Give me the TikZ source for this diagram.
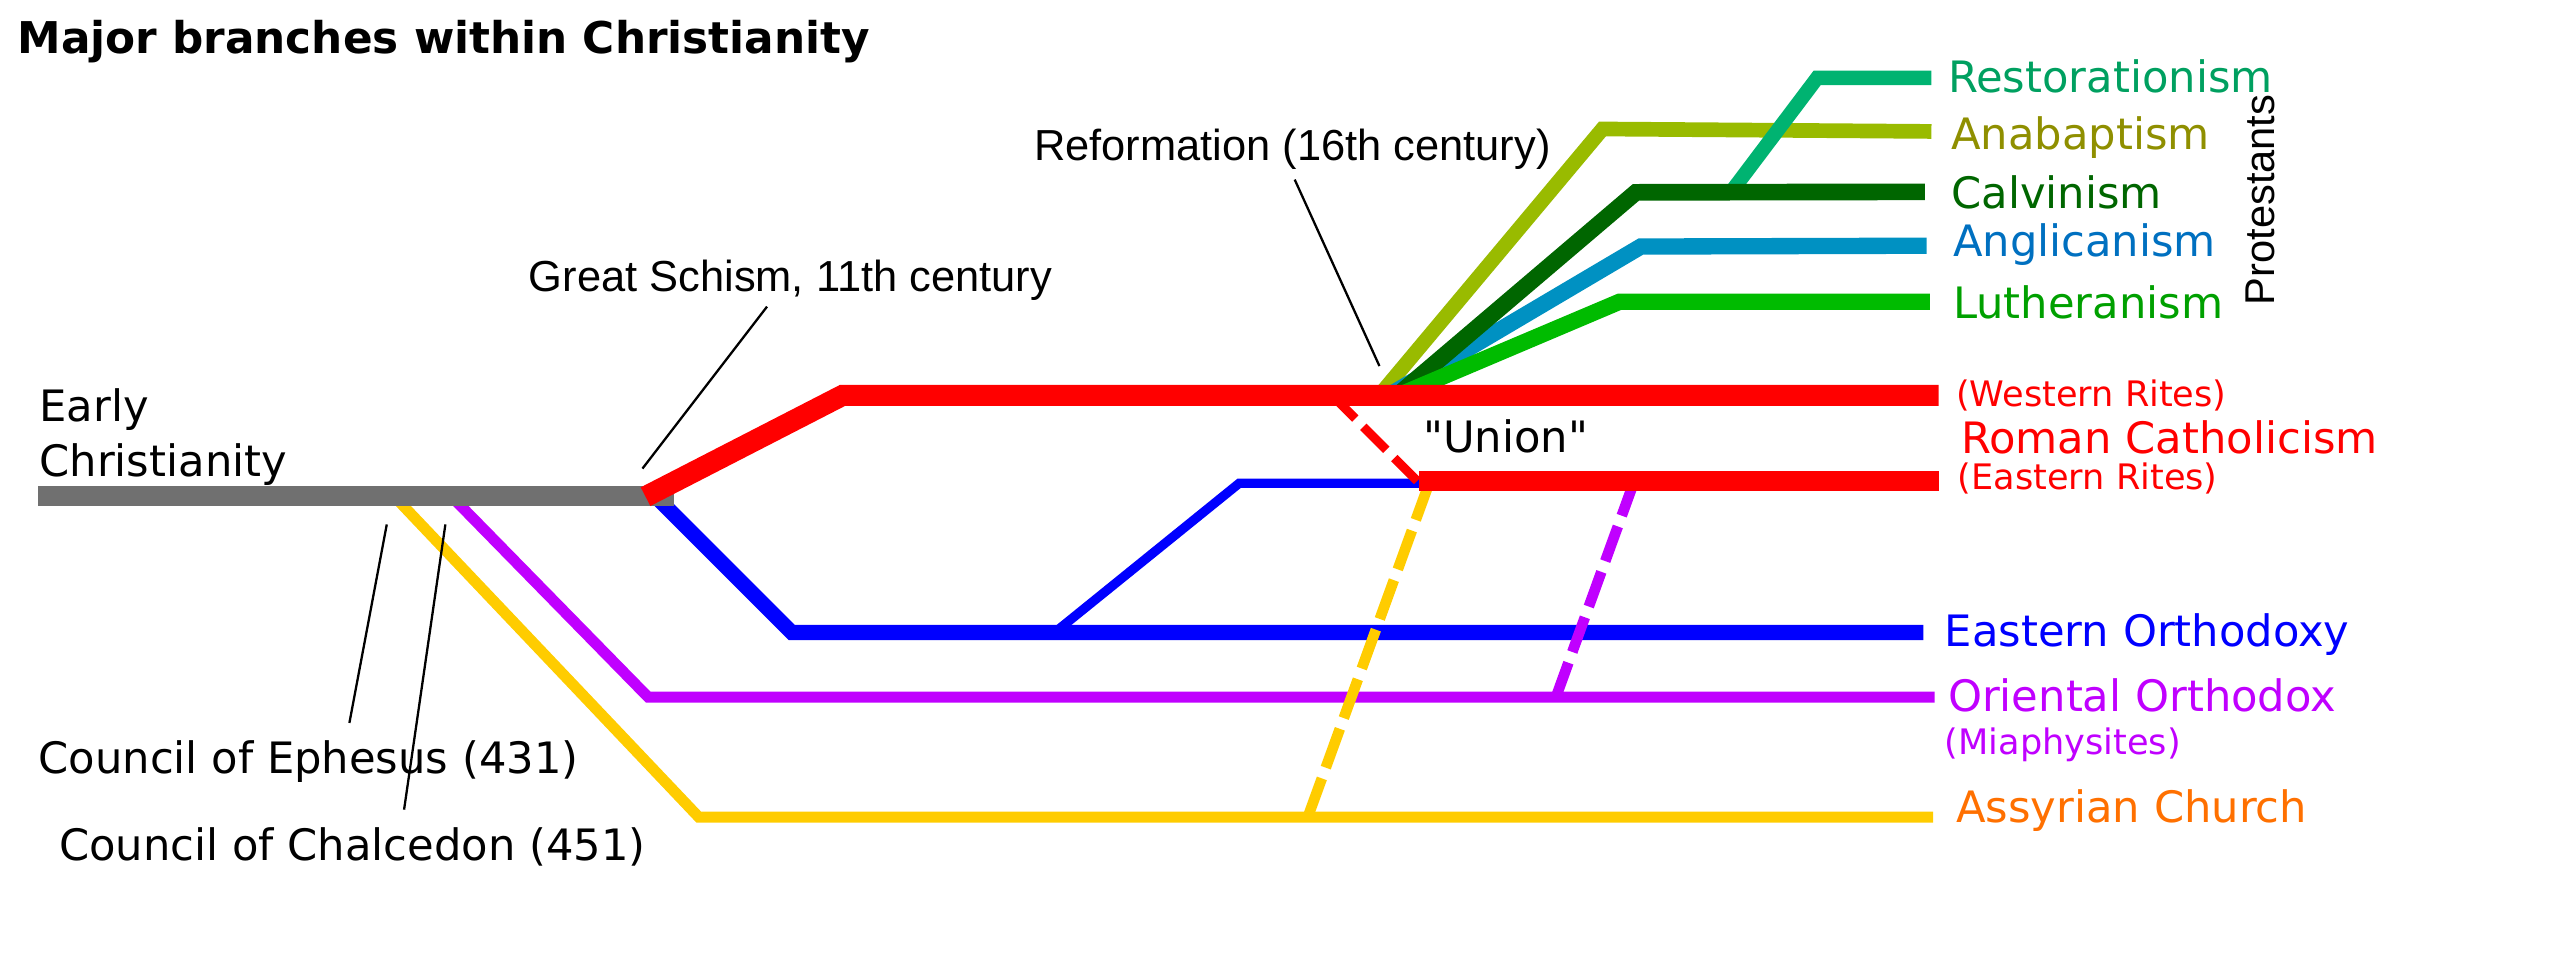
\documentclass[tikz,border=0pt]{standalone}
\usepackage{fontspec}
\setmainfont{DejaVu Sans}
\newfontfamily\dvplain{DejaVu Sans}
\newfontfamily\lib{Liberation Sans}
\definecolor{gcol}{HTML}{707070}
\definecolor{rcol}{HTML}{FF0000}
\definecolor{bcol}{HTML}{0000FF}
\definecolor{pcol}{HTML}{C000FF}
\definecolor{ycol}{HTML}{FFCC00}
\definecolor{ocol}{HTML}{FF7000}
\definecolor{analine}{HTML}{99BB00}
\definecolor{anatext}{HTML}{8F8F00}
\definecolor{calcol}{HTML}{006600}
\definecolor{resline}{HTML}{00B371}
\definecolor{restext}{HTML}{00A060}
\definecolor{angline}{HTML}{0091C2}
\definecolor{angtext}{HTML}{0070C0}
\definecolor{lutline}{HTML}{00BB00}
\definecolor{luttext}{HTML}{00A000}
\begin{document}
\begin{tikzpicture}[x=1pt,y=-1pt, line join=miter, line cap=butt,
  lbl/.style={anchor=base west, inner sep=0pt, font=\fontsize{26.5}{30}\selectfont},
  sml/.style={anchor=base west, inner sep=0pt, font=\fontsize{21.5}{25}\selectfont},
  arl/.style={anchor=base west, inner sep=0pt, font=\lib\fontsize{26.6}{30}\selectfont},
  ann/.style={black, line width=1.4},
  dsh/.style={line width=#1}]
\useasboundingbox (0,0) rectangle (1568,592);

% main branches (under the grey trunk)
\draw[ycol, line width=6.7] (241,303.5) -- (428,500.5) -- (1184,500.5);
\draw[pcol, line width=6.7] (276,303.5) -- (397,427) -- (1185,427);
\draw[bcol, line width=9.2] (401,303.5) -- (485,387.4) -- (1178,387.4);
\draw[bcol, line width=5.7] (646,387.4) -- (759,296) -- (870,296);

% unions (dashed)
\draw[ycol, dsh=6.5, dash pattern=on 25.3 off 7] (875.8,294.6) -- (801,500.5);
\draw[pcol, dsh=6.5, dash pattern=on 22.6 off 7] (1001,294.6) -- (953,427);
\draw[rcol, dsh=5.5, dash pattern=on 20 off 7] (816,242.2) -- (868,294.6);

% protestant branches
\draw[analine, line width=9] (845,242) -- (981.5,79) -- (1183,80.5);
\draw[angline, line width=10] (851,242) -- (1005,151) -- (1180,150.5);
\draw[resline, line width=8.8] (1060,118) -- (1113,47.7) -- (1183,47.7);
\draw[calcol, line width=10.2] (856,242) -- (1002,117.8) -- (1179,117.5);
\draw[lutline, line width=10] (857,242) -- (992,184.8) -- (1182,184.8);

% trunk and Catholic lines
\draw[gcol, line width=12.3] (23.4,303.7) -- (413,303.7);
\draw[rcol, line width=12.9] (395.4,304.2) -- (516,242.2) -- (1187.4,242.2);
\draw[rcol, line width=12.2] (869.3,294.6) -- (1187.4,294.6);

% labels
\node[lbl, font=\fontsize{26.8}{30}\selectfont\bfseries] (title) at (10.5,32.7) {Major branches within Christianity};
\node[lbl] (early) at (24,258) {Early};
\node[lbl] (christ) at (24,291.6) {Christianity};
\node[lbl] (ephesus) at (23.4,474) {Council of Ephesus (431)};
\node[lbl] (chalcedon) at (36,527) {Council of Chalcedon (451)};
\node[arl] (schism) at (323.8,178.6) {Great Schism, 11th century};
\node[arl] (reform) at (633.2,98) {Reformation (16th century)};
\node[lbl, font=\dvplain\fontsize{26.5}{30}\selectfont] (union) at (871.6,277) {"Union"};

\node[lbl, text=restext] (rest) at (1193,56.8) {Restorationism};
\node[lbl, text=anatext] (anab) at (1195,91.4) {Anabaptism};
\node[lbl, text=calcol] (calv) at (1195,127.5) {Calvinism};
\node[lbl, text=angtext] (angl) at (1196,156.8) {Anglicanism};
\node[lbl, text=luttext] (luth) at (1196,194.8) {Lutheranism};
\node[rotate=90, anchor=base, inner sep=0pt, font=\lib\fontsize{25.5}{30}\selectfont] (prot) at (1393,122.5) {Protestants};

\node[sml, text=rcol] (west) at (1198,249) {(Western Rites)};
\node[lbl, text=rcol] (rc) at (1201,277.6) {Roman Catholicism};
\node[sml, text=rcol] (east) at (1199,300) {(Eastern Rites)};
\node[lbl, text=bcol] (eo) at (1191,396) {Eastern Orthodoxy};
\node[lbl, text=pcol] (oo) at (1193,436) {Oriental Orthodox};
\node[sml, text=pcol] (mia) at (1191,462) {(Miaphysites)};
\node[lbl, text=ocol] (acoe) at (1198,503.6) {Assyrian Church};

% annotation pointers
\coordinate (gsA) at (469.8,187.8);
\coordinate (gsB) at (393.5,287);
\coordinate (rfA) at (793,110);
\coordinate (rfB) at (844.9,224.2);
\coordinate (epA) at (236.9,321.2);
\coordinate (epB) at (214,442.8);
\coordinate (chA) at (272.8,321.2);
\coordinate (chB) at (247.5,495.9);
\draw[ann] (gsA) -- (gsB);
\draw[ann] (rfA) -- (rfB);
\draw[ann] (epA) -- (epB);
\draw[ann] (chA) -- (chB);
\end{tikzpicture}
\end{document}
